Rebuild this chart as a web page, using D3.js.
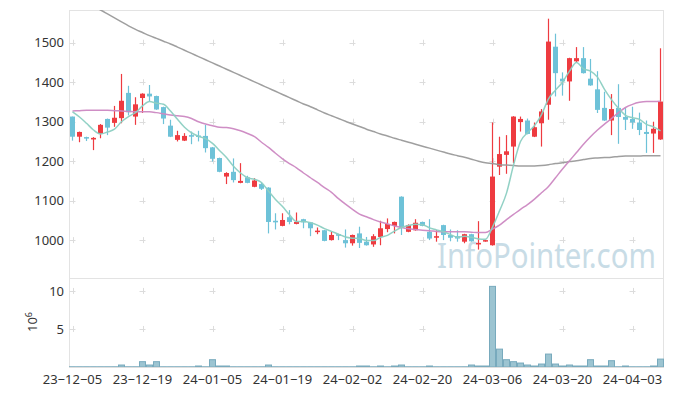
<!DOCTYPE html>
<html>
<head>
<meta charset="utf-8">
<script src="https://cdn.jsdelivr.net/npm/d3@7"></script>
<style>
  body { margin: 0; background: #fff; }
  svg { display: block; font-family: "Noto Sans", sans-serif; }
  .axis text { font-family: "Noto Sans", sans-serif; font-size: 13px; fill: #333; }
  .axis path, .axis line { display: none; }
</style>
</head>
<body>
<svg id="chart" width="673" height="396"></svg>
<script>
// trading days, 23-12-05 .. 24-04-09
const dates = [
  '23-12-05','23-12-06','23-12-07','23-12-08','23-12-11','23-12-12','23-12-13','23-12-14','23-12-15','23-12-18',
  '23-12-19','23-12-20','23-12-21','23-12-22','23-12-26','23-12-27','23-12-28','24-01-02','24-01-03','24-01-04',
  '24-01-05','24-01-08','24-01-09','24-01-10','24-01-11','24-01-12','24-01-15','24-01-16','24-01-17','24-01-18',
  '24-01-19','24-01-22','24-01-23','24-01-24','24-01-25','24-01-26','24-01-29','24-01-30','24-01-31','24-02-01',
  '24-02-02','24-02-05','24-02-06','24-02-07','24-02-08','24-02-13','24-02-14','24-02-15','24-02-16','24-02-19',
  '24-02-20','24-02-21','24-02-22','24-02-23','24-02-26','24-02-27','24-02-28','24-02-29','24-03-04','24-03-05',
  '24-03-06','24-03-07','24-03-08','24-03-11','24-03-12','24-03-13','24-03-14','24-03-15','24-03-18','24-03-19',
  '24-03-20','24-03-21','24-03-22','24-03-25','24-03-26','24-03-27','24-03-28','24-03-29','24-04-01','24-04-02',
  '24-04-03','24-04-04','24-04-05','24-04-08','24-04-09'
];
const tickDates = ['23-12-05','23-12-19','24-01-05','24-01-19','24-02-02','24-02-20','24-03-06','24-03-20','24-04-03'];
const priceTicks = [1000, 1100, 1200, 1300, 1400, 1500];
const volTicks = [5, 10];

const open = [1313,1262,1261,1255,1269,1307,1297,1309,1373,1313,1360,1371,1365,1337,1290,1254,1252,1266,1265,1264,
  1235,1208,1161,1173,1145,1159,1135,1142,1133,1049,1036,1058,1041,1053,1045,1021,1025,1000,1015,1000,
  992,1017,996,989,1008,1028,1036,1110,1021,1025,1046,1021,1006,1038,1013,1010,996,1015,989,997,
  987,1186,1216,1237,1299,1303,1262,1296,1343,1490,1409,1402,1453,1461,1409,1382,1335,1303,1335,1312,
  1307,1298,1274,1270,1255];
const close = [1262,1274,1258,1259,1292,1285,1310,1353,1324,1344,1371,1364,1331,1308,1262,1266,1264,1262,1262,1233,
  1206,1173,1170,1152,1150,1145,1151,1130,1046,1045,1051,1046,1046,1045,1030,1024,998,1013,1011,992,
  1013,993,987,1010,1030,1041,1046,1032,1038,1044,1036,1004,1010,1013,1006,1004,1015,997,993,1000,
  1161,1218,1225,1313,1307,1269,1286,1326,1503,1423,1402,1461,1461,1423,1392,1330,1303,1332,1312,1305,
  1298,1279,1269,1282,1351];
const high = [1313,1275,1262,1261,1294,1308,1340,1421,1391,1362,1372,1393,1366,1338,1305,1277,1271,1275,1277,1292,
  1236,1209,1172,1207,1195,1163,1157,1146,1134,1068,1068,1076,1070,1054,1046,1032,1026,1021,1016,1027,
  1014,1034,1008,1015,1049,1055,1047,1111,1040,1053,1047,1053,1025,1039,1027,1025,1016,1016,1048,1001,
  1298,1262,1266,1314,1313,1308,1298,1332,1561,1523,1425,1462,1489,1489,1459,1428,1376,1370,1395,1335,
  1338,1323,1303,1300,1486];
const low = [1252,1248,1251,1228,1258,1266,1287,1296,1316,1292,1322,1351,1330,1294,1261,1250,1251,1243,1250,1222,
  1199,1172,1142,1146,1144,1144,1134,1127,1017,1027,1035,1040,1040,1030,1010,1015,997,999,1000,981,
  986,980,986,983,987,1020,1017,1013,1020,1024,1035,1000,996,1000,997,996,992,996,976,996,
  986,1165,1168,1195,1275,1268,1261,1237,1305,1364,1366,1353,1449,1422,1391,1322,1302,1266,1244,1279,
  1282,1266,1221,1221,1254];
// volume, millions of shares
const volume = [0.03,0.03,0.03,0.03,0.03,0.03,0.03,0.26,0.03,0.03,0.7,0.26,0.7,0.03,0.03,0.03,0.03,0.03,0.13,0.03,
  0.96,0.13,0.13,0.03,0.03,0.03,0.03,0.03,0.26,0.03,0.03,0.03,0.03,0.03,0.03,0.03,0.03,0.03,0.03,0.03,
  0.03,0.13,0.13,0.03,0.13,0.03,0.13,0.26,0.03,0.03,0.03,0.13,0.03,0.03,0.03,0.03,0.03,0.26,0.13,0.13,
  10.6,2.35,0.96,0.7,0.52,0.26,0.13,0.39,1.7,0.39,0.13,0.26,0.13,0.13,0.96,0.13,0.13,0.83,0.03,0.13,
  0.03,0.03,0.03,0.13,1.04];
// moving averages
const ma5 = [1325,1312,1296,1279,1269,1274,1281,1300,1313,1323,1340,1351,1347,1344,1327,1306,1286,1272,1263,1257,
  1245,1227,1209,1187,1170,1158,1154,1146,1124,1103,1085,1064,1047,1047,1044,1038,1029,1022,1015,1008,
  1005,1004,999,999,1007,1012,1023,1032,1037,1040,1039,1031,1026,1021,1014,1007,1010,1007,1003,1002,
  1033,1074,1119,1190,1250,1272,1290,1318,1358,1380,1400,1428,1450,1434,1428,1413,1382,1356,1334,1316,
  1310,1306,1293,1287,1277];
const ma20 = [1327,1328,1329,1329,1329,1329,1328,1327,1326,1325,1325,1325,1323,1320,1317,1315,1313,1308,1300,1294,
  1290,1286,1285,1282,1277,1270,1262,1248,1235,1220,1206,1194,1183,1170,1158,1146,1133,1121,1105,1091,
  1078,1066,1059,1052,1046,1041,1036,1032,1029,1027,1025,1024,1022,1021,1021,1021,1021,1020,1019,1019,
  1028,1038,1052,1065,1078,1090,1104,1120,1136,1158,1180,1201,1222,1243,1262,1279,1294,1308,1323,1336,
  1344,1349,1351,1351,1352];
const ma60 = [1621,1611,1601,1590,1583,1573,1563,1553,1543,1534,1526,1518,1511,1504,1497,1489,1481,1473,1465,1457,
  1449,1441,1433,1425,1417,1409,1401,1393,1385,1377,1369,1361,1353,1345,1338,1330,1322,1315,1308,1301,
  1294,1288,1281,1275,1269,1264,1258,1253,1248,1243,1238,1233,1228,1223,1218,1214,1210,1205,1200,1196,
  1194,1191,1190,1189,1188,1188,1188,1189,1191,1194,1196,1199,1201,1204,1207,1208,1209,1210,1212,1213,
  1213,1213,1214,1214,1214];

const svg = d3.select('#chart');
const padL = 69, padR = 664, padT = 10, padMid = 278, padB = 367;
const upColor = '#ee3b40', downColor = '#6ec2d8';

const x = d3.scaleBand().domain(dates).range([padL, padR]);
const cx = d => x(d) + x.bandwidth() / 2;
const y = d3.scaleLinear().domain([904, 1583]).range([padMid, padT]);
const yv = d3.scaleLinear().domain([0, 11.7]).range([padB, padMid]);

svg.append('defs').append('clipPath').attr('id', 'clip')
  .append('rect').attr('x', padL).attr('y', padT).attr('width', padR - padL).attr('height', padMid - padT);

// frames
const frame = svg.append('g').attr('fill', 'none').attr('stroke', '#e3e3e3');
frame.append('rect').attr('x', padL + 0.5).attr('y', padT + 0.5).attr('width', padR - padL - 1).attr('height', padMid - padT);
frame.append('rect').attr('x', padL + 0.5).attr('y', padMid + 0.5).attr('width', padR - padL - 1).attr('height', padB - padMid);

// grid crosses
const crosses = [];
tickDates.forEach(d => {
  priceTicks.forEach(p => crosses.push([cx(d), y(p)]));
  volTicks.forEach(v => crosses.push([cx(d), yv(v)]));
});
svg.append('g').attr('stroke', '#dcdcdc').attr('stroke-width', 1)
  .selectAll('path').data(crosses).join('path')
  .attr('d', ([a, b]) => `M${a - 3},${Math.round(b) + 0.5}h6M${Math.round(a) + 0.5},${b - 3}v6`);

// watermark, squeezed to the reference width
const wm = svg.append('text')
  .style('font-size', '34px').attr('fill', '#c8dce6')
  .text('InfoPointer.com');
const wmScale = 219 / wm.node().getComputedTextLength();
wm.attr('transform', `translate(437,268) scale(${wmScale},1)`);

const plot = svg.append('g').attr('clip-path', 'url(#clip)');
const idx = d3.range(dates.length);

// candles
const candle = plot.append('g').selectAll('g').data(idx).join('g')
  .attr('fill', i => close[i] >= open[i] ? upColor : downColor)
  .attr('stroke', i => close[i] >= open[i] ? upColor : downColor);
candle.append('line')
  .attr('x1', i => cx(dates[i])).attr('x2', i => cx(dates[i]))
  .attr('y1', i => y(high[i])).attr('y2', i => y(low[i]))
  .attr('stroke-width', 1.2);
candle.append('rect')
  .attr('stroke', 'none')
  .attr('x', i => x(dates[i]) + 1)
  .attr('width', x.bandwidth() - 2)
  .attr('y', i => y(Math.max(open[i], close[i])))
  .attr('height', i => Math.max(1.5, Math.abs(y(open[i]) - y(close[i]))));

// moving averages
const line = d3.line().x((v, i) => cx(dates[i])).y(v => y(v)).curve(d3.curveMonotoneX);
[[ma60, '#9a9a9a'], [ma20, '#cc88c2'], [ma5, '#8ccfc2']].forEach(([s, c]) => {
  plot.append('path').attr('d', line(s)).attr('fill', 'none')
    .attr('stroke', c).attr('stroke-width', 1.5).attr('opacity', 0.95);
});

// volume bars
svg.append('g').selectAll('rect').data(idx).join('rect')
  .attr('x', i => x(dates[i]) + 0.5)
  .attr('width', x.bandwidth() - 1)
  .attr('y', i => yv(volume[i]))
  .attr('height', i => padB - yv(volume[i]))
  .attr('fill', '#9cc4d1').attr('stroke', '#78aabd').attr('stroke-width', 1);

// axes
svg.append('g').attr('class', 'axis')
  .attr('transform', `translate(${padL},0)`)
  .call(d3.axisLeft(y).tickValues(priceTicks).tickSize(0).tickPadding(5).tickFormat(d3.format('d')));
svg.append('g').attr('class', 'axis')
  .attr('transform', `translate(${padL},0)`)
  .call(d3.axisLeft(yv).tickValues(volTicks).tickSize(0).tickPadding(5));
svg.append('g').attr('class', 'axis')
  .attr('transform', `translate(0,${padB})`)
  .call(d3.axisBottom(x).tickValues(tickDates).tickSize(0).tickPadding(8)
    .tickFormat(d => d.replace(/-/g, '\u2212')));

svg.append('line').attr('x1', padL).attr('x2', padR).attr('y1', padB + 0.5).attr('y2', padB + 0.5)
  .attr('stroke', '#dedede');

// 10^6 unit label
const unit = svg.append('text')
  .attr('transform', 'translate(37,322) rotate(-90)')
  .attr('text-anchor', 'middle')
  .style('font-size', '13px').attr('fill', '#333');
unit.append('tspan').text('10');
unit.append('tspan').attr('dy', -5).style('font-size', '9px').text('6');
</script>
</body>
</html>
